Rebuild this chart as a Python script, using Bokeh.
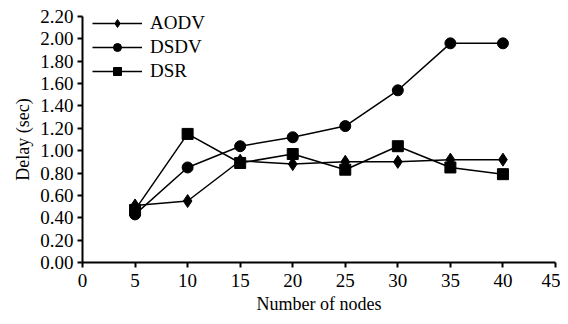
from bokeh.plotting import figure
from bokeh.models import Range1d, FixedTicker, NumeralTickFormatter, Legend, LegendItem
from bokeh.embed import file_html
from bokeh.resources import INLINE

nodes = [5, 10, 15, 20, 25, 30, 35, 40]
aodv = [0.51, 0.55, 0.91, 0.88, 0.90, 0.90, 0.92, 0.92]
dsdv = [0.43, 0.85, 1.04, 1.12, 1.22, 1.54, 1.96, 1.96]
dsr = [0.47, 1.15, 0.89, 0.97, 0.83, 1.04, 0.85, 0.79]

x_ticks = [0, 5, 10, 15, 20, 25, 30, 35, 40, 45]
y_ticks = [0.0, 0.2, 0.4, 0.6, 0.8, 1.0, 1.2, 1.4, 1.6, 1.8, 2.0, 2.2]

FONT = "Liberation Serif"

p = figure(width=560, height=316, output_backend="svg", toolbar_location=None,
           x_range=Range1d(0, 45), y_range=Range1d(0, 2.2),
           min_border_left=82, min_border_right=5, min_border_top=16, min_border_bottom=50)
p.outline_line_color = None
p.grid.visible = False
p.background_fill_color = "white"
p.border_fill_color = "white"

p.axis.axis_line_color = "black"
p.axis.axis_line_width = 2
p.axis.major_tick_line_color = "black"
p.axis.major_tick_line_width = 2
p.axis.major_tick_out = 5
p.axis.major_tick_in = 0
p.axis.minor_tick_line_color = None
p.axis.major_label_text_font = FONT
p.axis.major_label_text_font_size = "19px"
p.axis.major_label_text_font_style = "normal"
p.axis.major_label_text_color = "black"
p.axis.axis_label_text_font = FONT
p.axis.axis_label_text_font_size = "18px"
p.axis.axis_label_text_font_style = "normal"
p.axis.axis_label_text_color = "black"

p.xaxis.ticker = FixedTicker(ticks=x_ticks)
p.yaxis.ticker = FixedTicker(ticks=y_ticks)
p.yaxis.formatter = NumeralTickFormatter(format="0.00")
p.xaxis.axis_label = "Number of nodes"
p.yaxis.axis_label = "Delay (sec)"
p.xaxis.major_label_standoff = 6
p.yaxis.major_label_standoff = 4
p.xaxis.axis_label_standoff = 4
p.yaxis.axis_label_standoff = 4

l1 = p.line(nodes, aodv, line_color="black", line_width=1.5)
m1 = p.scatter(nodes, aodv, marker="diamond", size=13, fill_color="black", line_color="black")
l2 = p.line(nodes, dsdv, line_color="black", line_width=1.5)
m2 = p.scatter(nodes, dsdv, marker="circle", size=11, fill_color="black", line_color="black")
l3 = p.line(nodes, dsr, line_color="black", line_width=1.5)
m3 = p.scatter(nodes, dsr, marker="square", size=11, fill_color="black", line_color="black")

legend = Legend(items=[
    LegendItem(label="AODV", renderers=[l1, m1]),
    LegendItem(label="DSDV", renderers=[l2, m2]),
    LegendItem(label="DSR", renderers=[l3, m3]),
], location=(10, 180))
legend.border_line_color = None
legend.background_fill_alpha = 0
legend.label_text_font = FONT
legend.label_text_font_size = "19px"
legend.label_text_font_style = "normal"
legend.label_text_color = "black"
legend.glyph_width = 50
legend.glyph_height = 20
legend.label_height = 20
legend.label_width = 70
legend.spacing = 2
legend.label_standoff = 8
legend.margin = 0
legend.padding = 5
p.add_layout(legend)

open("out.html", "w").write(file_html(p, INLINE))
